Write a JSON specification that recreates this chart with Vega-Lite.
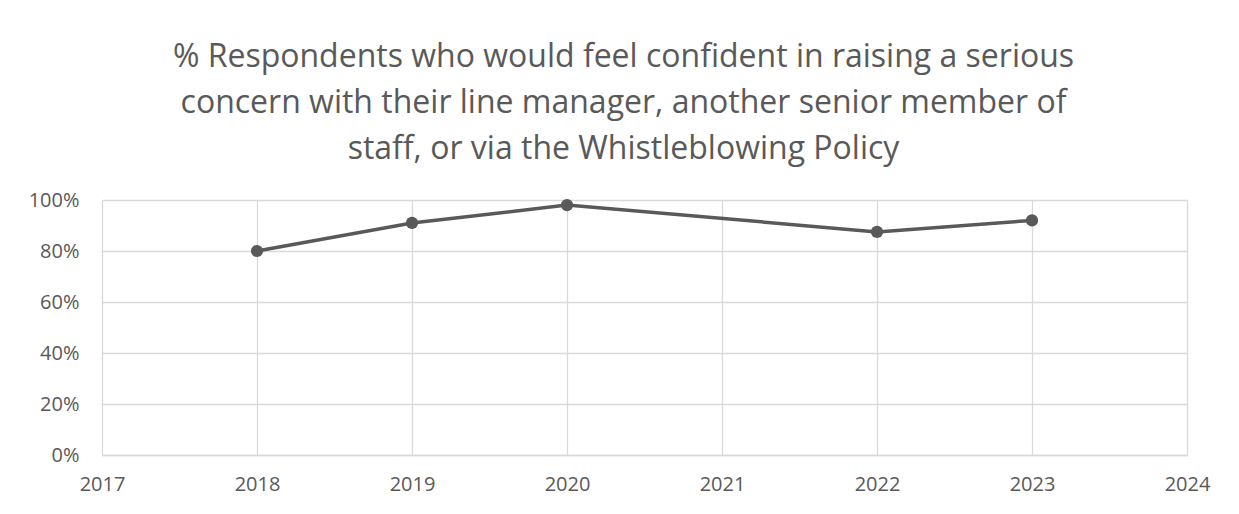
{
  "$schema": "https://vega.github.io/schema/vega-lite/v6.json",
  "width": 1085,
  "height": 255,
  "autosize": {"type": "none"},
  "padding": {"left": 102, "top": 200, "right": 52, "bottom": 59},
  "background": "white",
  "title": {
    "text": ["% Respondents who would feel confident in raising a serious", "concern with their line manager, another senior member of", "staff, or via the Whistleblowing Policy"],
    "font": "Open Sans",
    "fontSize": 32,
    "fontWeight": "normal",
    "color": "#595959",
    "lineHeight": 46,
    "anchor": "middle",
    "dx": -21,
    "offset": 24
  },
  "data": {
    "values": [
      {"year": 2018, "pct": 0.80},
      {"year": 2019, "pct": 0.91},
      {"year": 2020, "pct": 0.98},
      {"year": 2022, "pct": 0.875},
      {"year": 2023, "pct": 0.92}
    ]
  },
  "config": {
    "view": {"stroke": null},
    "axis": {
      "labelFont": "Open Sans",
      "labelFontSize": 20,
      "labelColor": "#595959",
      "gridColor": "#d9d9d9",
      "gridWidth": 1.3,
      "domainColor": "#d9d9d9",
      "domainWidth": 1.3,
      "ticks": false,
      "title": null
    }
  },
  "mark": {"type": "line", "color": "#595959", "strokeWidth": 3.5, "point": {"filled": true, "size": 150, "color": "#595959", "opacity": 1}},
  "encoding": {
    "x": {
      "field": "year",
      "type": "quantitative",
      "scale": {"domain": [2017, 2024], "nice": false, "zero": false},
      "axis": {"values": [2017, 2018, 2019, 2020, 2021, 2022, 2023, 2024], "format": "d", "labelPadding": 19, "domain": true, "labelFlush": false}
    },
    "y": {
      "field": "pct",
      "type": "quantitative",
      "scale": {"domain": [0, 1], "nice": false},
      "axis": {"values": [0, 0.2, 0.4, 0.6, 0.8, 1.0], "format": ".0%", "labelPadding": 23, "domain": false}
    }
  }
}
